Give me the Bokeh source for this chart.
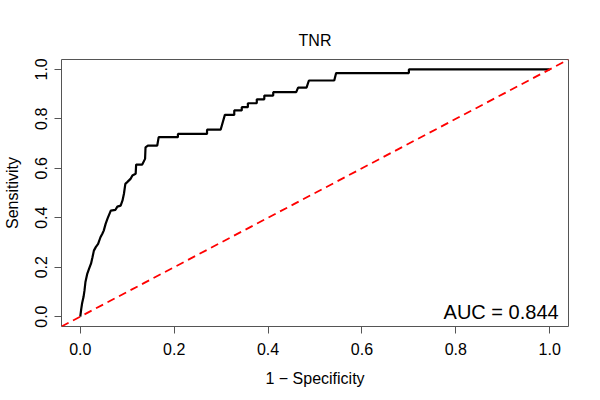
from bokeh.plotting import figure
from bokeh.models import Range1d, FixedTicker, Slope, Label
from bokeh.embed import file_html
from bokeh.resources import INLINE

# ROC curve points (1 - specificity, sensitivity)
fpr = [0.000, 0.002, 0.004, 0.007, 0.009, 0.011, 0.015, 0.019, 0.023, 0.026,
       0.029, 0.033, 0.038, 0.043, 0.047, 0.050, 0.054, 0.058, 0.065, 0.075,
       0.079, 0.086, 0.090, 0.093, 0.096, 0.100, 0.107, 0.111, 0.118, 0.119,
       0.132, 0.138, 0.139, 0.144, 0.164, 0.167, 0.208, 0.208, 0.270, 0.270,
       0.299, 0.308, 0.328, 0.328, 0.344, 0.344, 0.357, 0.357, 0.376, 0.376,
       0.392, 0.392, 0.411, 0.411, 0.460, 0.464, 0.482, 0.487, 0.541, 0.545,
       0.700, 0.700, 1.000]
tpr = [0.000, 0.030, 0.055, 0.080, 0.106, 0.140, 0.174, 0.195, 0.215, 0.240,
       0.267, 0.281, 0.294, 0.321, 0.335, 0.348, 0.375, 0.396, 0.429, 0.432,
       0.445, 0.449, 0.470, 0.497, 0.537, 0.544, 0.557, 0.571, 0.578, 0.615,
       0.615, 0.638, 0.685, 0.692, 0.692, 0.726, 0.726, 0.739, 0.739, 0.756,
       0.756, 0.816, 0.816, 0.834, 0.834, 0.847, 0.847, 0.863, 0.863, 0.879,
       0.879, 0.894, 0.894, 0.908, 0.908, 0.926, 0.926, 0.955, 0.955, 0.985,
       0.985, 1.000, 1.000]
ticks = [0.0, 0.2, 0.4, 0.6, 0.8, 1.0]
tick_labels = {0.0: "0.0", 0.2: "0.2", 0.4: "0.4", 0.6: "0.6", 0.8: "0.8", 1.0: "1.0"}
auc = 0.844
title_text = "TNR"
xlabel = "1 \u2212 Specificity"
ylabel = "Sensitivity"

FONT = "Liberation Sans"
GRAY = "#555555"

p = figure(width=600, height=400, output_backend="svg", toolbar_location=None,
           x_range=Range1d(-0.04, 1.04), y_range=Range1d(-0.04, 1.04),
           min_border_left=59, min_border_right=32, min_border_top=59,
           min_border_bottom=74)
p.background_fill_color = "white"
p.border_fill_color = "white"
p.outline_line_color = GRAY
p.outline_line_width = 1
p.xgrid.visible = False
p.ygrid.visible = False

p.title.text = title_text
p.title.align = "center"
p.title.text_font = FONT
p.title.text_font_size = "16px"
p.title.text_font_style = "normal"
p.title.text_color = "black"
p.title.standoff = 21

for ax in (p.xaxis[0], p.yaxis[0]):
    ax.ticker = FixedTicker(ticks=ticks)
    ax.major_label_overrides = tick_labels
    ax.axis_line_color = None
    ax.major_tick_in = 0
    ax.major_tick_out = 7
    ax.major_tick_line_color = GRAY
    ax.minor_tick_line_color = None
    ax.major_label_text_font = FONT
    ax.major_label_text_font_size = "16px"
    ax.major_label_text_color = "black"
    ax.axis_label_text_font = FONT
    ax.axis_label_text_font_size = "16px"
    ax.axis_label_text_font_style = "normal"
    ax.axis_label_text_color = "black"

p.xaxis.axis_label = xlabel
p.yaxis.axis_label = ylabel
p.xaxis.major_label_standoff = 9
p.xaxis.axis_label_standoff = 12
p.yaxis.major_label_orientation = "vertical"
p.yaxis.major_label_standoff = 7
p.yaxis.axis_label_standoff = 12

p.add_layout(Slope(gradient=1, y_intercept=0, line_color="red",
                   line_width=1.8, line_dash="8 5"))
p.line(fpr, tpr, line_color="black", line_width=2.2)

p.add_layout(Label(x=1.019, y=0.017, text="AUC = %.3f" % auc,
                   text_align="right", text_baseline="alphabetic",
                   text_font=FONT, text_font_size="20px", text_color="black"))

open("out.html", "w").write(file_html(p, INLINE))
